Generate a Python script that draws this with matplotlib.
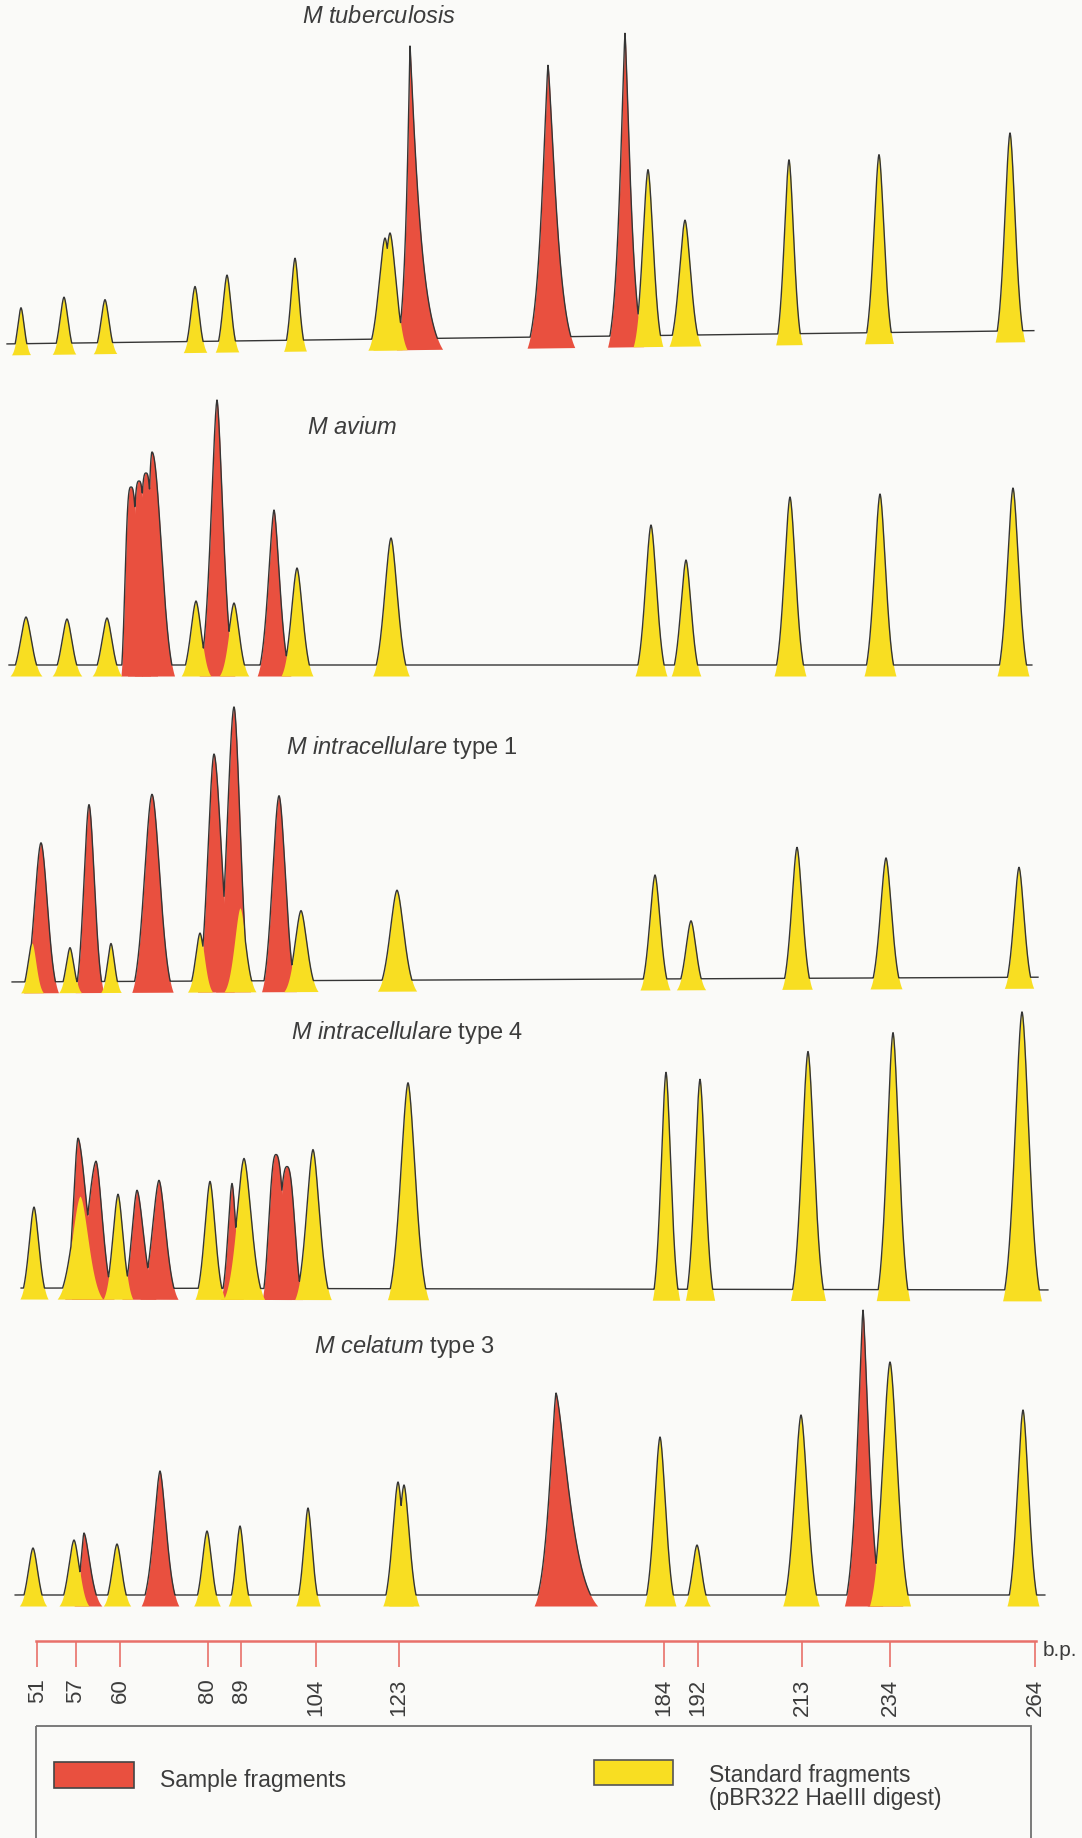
import numpy as np
import matplotlib
matplotlib.use("Agg")
import matplotlib.pyplot as plt
from matplotlib.patches import Rectangle

plt.rcParams['font.family'] = ['Liberation Sans', 'DejaVu Sans']
plt.rcParams['mathtext.fontset'] = 'custom'
plt.rcParams['mathtext.it'] = 'Liberation Sans:italic'
plt.rcParams['mathtext.rm'] = 'Liberation Sans'

# ---------------- data (migration distance units, peak heights) ----------------
species = ["M tuberculosis", "M avium", "M intracellulare", "M intracellulare", "M celatum"]
species_suffix = ["", "", "type 1", "type 4", "type 3"]

# M tuberculosis
tb_std_pos = [21, 64, 105, 195, 227, 295, 385, 390, 648, 685, 789, 879, 1010]
tb_std_h = [36, 46, 43, 55, 66, 82, 101, 106, 166, 115, 174, 178, 198]
tb_std_w = [5.0, 6.2, 6.2, 6.2, 6.2, 6.0, 9.0, 9.0, 7.8, 8.4, 7.0, 7.6, 7.8]
tb_smp_pos = [410, 548, 625]
tb_smp_h = [294, 272, 303]
tb_smp_wl = [5, 9, 7.5]
tb_smp_wr = [12, 11.5, 8]
tb_smp_p = [1.1, 1.3, 1.3]

# M avium
av_std_pos = [26, 67, 107, 196, 234, 297, 391, 651, 686, 790, 880, 1013]
av_std_h = [48, 46, 47, 64, 62, 97, 127, 140, 105, 168, 171, 177]
av_std_w = [8.4, 7.8, 7.8, 7.8, 7.8, 8.4, 9.6, 8.4, 7.8, 8.4, 8.4, 8.4]
av_smp_pos = [131, 139, 146, 152, 217, 274]
av_smp_h = [178, 184, 192, 213, 265, 155]
av_smp_wl = [7, 8, 8, 6, 9, 8.5]
av_smp_wr = [8, 8, 8, 13, 9, 8.5]
av_smp_p = [3.0, 3.0, 3.0, 2.0, 1.6, 1.6]

# M intracellulare type 1
i1_std_pos = [32, 70, 111, 200, 240, 301, 397, 655, 691, 797, 886, 1019]
i1_std_h = [39, 34, 38, 48, 73, 70, 90, 104, 58, 131, 120, 110]
i1_std_w = [6, 6, 5.4, 6.6, 8.4, 9, 10.3, 7.9, 7.7, 8, 8.4, 7.7]
i1_smp_pos = [41, 89, 152, 214, 234, 279]
i1_smp_h = [139, 177, 187, 227, 274, 185]
i1_smp_wl = [9.5, 7.5, 11, 9, 10, 9.5]
i1_smp_wr = [9.5, 8, 11.5, 11, 9, 9.5]
i1_smp_p = [1.8, 1.8, 1.8, 1.8, 1.8, 1.8]

# M intracellulare type 4
i4_std_pos = [34, 80, 118, 210, 244, 313, 408, 666, 700, 808, 893, 1022]
i4_std_h = [81, 92, 94, 107, 130, 139, 206, 217, 210, 238, 257, 278]
i4_std_w = [7.4, 12, 7.8, 7.9, 10.8, 9.6, 10.8, 7.2, 7.7, 9.2, 8.8, 10.2]
i4_smp_pos = [78, 96, 137, 159, 232, 276, 287]
i4_smp_h = [150, 127, 98, 108, 105, 134, 122]
i4_smp_wl = [7, 13, 8, 10, 6, 9, 10]
i4_smp_wr = [13, 9.5, 10, 10, 6, 10, 10]
i4_smp_p = [1.7, 1.7, 1.7, 1.7, 1.7, 2.5, 2.5]

# M celatum type 3
ce_std_pos = [33, 74, 117, 207, 240, 308, 398, 404, 660, 697, 801, 890, 1023]
ce_std_h = [47, 55, 51, 64, 69, 87, 113, 110, 158, 50, 180, 233, 185]
ce_std_w = [7.2, 7.9, 7.2, 7, 6.2, 6.5, 8, 8, 8.4, 7, 9.6, 10.8, 8.4]
ce_smp_pos = [84, 160, 556, 863, 885]
ce_smp_h = [62, 124, 202, 285, 95]
ce_smp_wl = [5, 9.5, 10, 8.5, 9]
ce_smp_wr = [9, 9.5, 19, 9, 9]
ce_smp_p = [1.6, 1.6, 1.4, 1.4, 1.6]

# base-pair scale
bp_tick_pos = [37.5, 76, 120, 208, 241, 316, 399, 664, 698, 802, 890, 1035]
bp_tick_labels = ["51", "57", "60", "80", "89", "104", "123", "184", "192", "213", "234", "264"]

legend_labels = ["Sample fragments", "Standard fragments\n(pBR322 HaeIII digest)"]

# ---------------- layout / style ----------------
W, H = 1082, 1838
RED = '#E9503F'
YEL = '#F8DE22'
LINE = '#353535'
AXRED = '#E8706A'
TXT = '#3C3C3C'
STD_P = 1.7
FOOT = 11.0
E0 = np.exp(-3.0)

panels = [
    dict(std=(tb_std_pos, tb_std_h, tb_std_w),
         smp=(tb_smp_pos, tb_smp_h, tb_smp_wl, tb_smp_wr, tb_smp_p),
         top=0, bot=362, b0=344, b1=330, xr=(7, 1034), title=(302, 17)),
    dict(std=(av_std_pos, av_std_h, av_std_w),
         smp=(av_smp_pos, av_smp_h, av_smp_wl, av_smp_wr, av_smp_p),
         top=380, bot=690, b0=665, b1=665, xr=(9, 1032), title=(307, 428)),
    dict(std=(i1_std_pos, i1_std_h, i1_std_w),
         smp=(i1_smp_pos, i1_smp_h, i1_smp_wl, i1_smp_wr, i1_smp_p),
         top=690, bot=1005, b0=982, b1=977, xr=(12, 1038), title=(286, 748)),
    dict(std=(i4_std_pos, i4_std_h, i4_std_w),
         smp=(i4_smp_pos, i4_smp_h, i4_smp_wl, i4_smp_wr, i4_smp_p),
         top=1000, bot=1312, b0=1288, b1=1290, xr=(21, 1048), title=(291, 1033)),
    dict(std=(ce_std_pos, ce_std_h, ce_std_w),
         smp=(ce_smp_pos, ce_smp_h, ce_smp_wl, ce_smp_wr, ce_smp_p),
         top=1290, bot=1625, b0=1595, b1=1595, xr=(15, 1045), title=(314, 1347)),
]


def peak(x, c, h, wl, wr, p, d):
    u = np.where(x < c, (c - x) / wl, (x - c) / wr)
    s = np.exp(-u ** p)
    return -d + (h + d) * (s - E0) / (1 - E0)


fig = plt.figure(figsize=(W / 100, H / 100), dpi=100)
fig.patch.set_facecolor('#FAFAF8')

x = np.linspace(0, W, 6000)

for i, pn in enumerate(panels):
    ax = fig.add_axes([0, 1 - pn['bot'] / H, 1, (pn['bot'] - pn['top']) / H])
    ax.set_facecolor('none')
    ax.axis('off')
    ax.set_xlim(0, W)
    ax.set_ylim(pn['b0'] - pn['bot'], pn['b0'] - pn['top'])
    base = pn['b0'] + (pn['b1'] - pn['b0']) * x / W
    drift = pn['b0'] - base

    curves = []
    sp, sh, swl, swr, spp = pn['smp']
    for c, h, wl, wr, p in zip(sp, sh, swl, swr, spp):
        f = peak(x, c, h, wl, wr, p, FOOT)
        curves.append(f)
        m = f > -FOOT
        ax.fill_between(x, -FOOT + drift, f + drift, where=m, interpolate=True,
                        color=RED, lw=0, zorder=1)
    tp, th, tw = pn['std']
    for c, h, w in zip(tp, th, tw):
        f = peak(x, c, h, w, w, STD_P, FOOT)
        curves.append(f)
        m = f > -FOOT
        ax.fill_between(x, -FOOT + drift, f + drift, where=m, interpolate=True,
                        color=YEL, lw=0, zorder=2)
    env = np.maximum(0, np.max(np.vstack(curves), axis=0)) + drift
    env = np.where((x >= pn['xr'][0]) & (x <= pn['xr'][1]), env, np.nan)
    ax.plot(x, env, color=LINE, lw=1.0, zorder=3, solid_joinstyle='round')

    sx, sy = pn['title']
    label = r'$\mathit{' + species[i].replace(' ', r'\ ') + r'}$'
    if species_suffix[i]:
        label += ' ' + species_suffix[i]
    fig.text(sx / W, 1 - sy / H, label, ha='left', va='center', fontsize=17, color=TXT)

# ---------------- base-pair scale ----------------
axs = fig.add_axes([36 / W, 1 - 1641 / H, (1036 - 36) / W, 30 / H])
axs.set_facecolor('none')
axs.set_xlim(36, 1036)
axs.set_ylim(0, 1)
for s in ['top', 'left', 'right']:
    axs.spines[s].set_visible(False)
axs.spines['bottom'].set_color(AXRED)
axs.spines['bottom'].set_linewidth(1.8)
axs.set_yticks([])
axs.set_xticks(bp_tick_pos)
axs.set_xticklabels(bp_tick_labels, rotation=90)
axs.tick_params(axis='x', direction='out', length=19, width=1.2, color=AXRED,
                pad=8, labelsize=16, labelcolor=TXT)
fig.text(1043 / W, 1 - 1651 / H, "b.p.", ha='left', va='center', fontsize=15, color=TXT)

# ---------------- legend ----------------
axl = fig.add_axes([0, 0, 1, 1])
axl.set_facecolor('none')
axl.axis('off')
axl.set_xlim(0, W)
axl.set_ylim(H, 0)
axl.add_patch(Rectangle((35.5, 1726), 1031 - 35.5, 140, fill=False, ec='#707070', lw=1.3))
axl.add_patch(Rectangle((54, 1762), 80, 26, fc=RED, ec='#444444', lw=1.2))
axl.add_patch(Rectangle((594, 1760), 79, 25, fc=YEL, ec='#555555', lw=1.2))
axl.text(160, 1780, legend_labels[0], ha='left', va='center', fontsize=16.5, color=TXT)
axl.text(709, 1787, legend_labels[1], ha='left', va='center', fontsize=16.5, color=TXT,
         linespacing=0.95)

fig.savefig("out.png", dpi=100, facecolor=fig.get_facecolor())
